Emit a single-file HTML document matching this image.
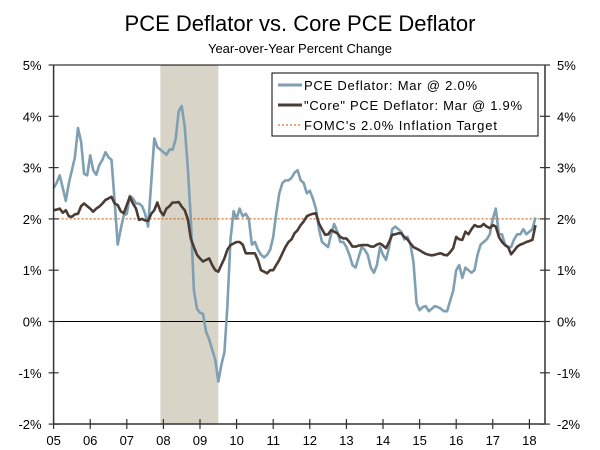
<!DOCTYPE html>
<html><head><meta charset="utf-8"><style>
html,body{margin:0;padding:0;background:#fff;}
svg{display:block;font-family:"Liberation Sans","DejaVu Sans",sans-serif;}
</style></head><body>
<svg id="chart" width="600" height="450" viewBox="0 0 600 450">
<text x="300" y="31" text-anchor="middle" font-size="22" fill="#000">PCE Deflator vs. Core PCE Deflator</text>
<text x="300" y="53" text-anchor="middle" font-size="13" fill="#000">Year-over-Year Percent Change</text>
<g id="plot"></g>
<g>
<rect x="272" y="73" width="266" height="63" fill="#fff" stroke="#000" stroke-width="1"/>
<line x1="278" y1="85" x2="302" y2="85" stroke="#7f9fb3" stroke-width="3"/>
<text x="304" y="90" font-size="13" textLength="173">PCE Deflator: Mar @ 2.0%</text>
<line x1="278" y1="105" x2="302" y2="105" stroke="#4a3c35" stroke-width="3"/>
<text x="304" y="110" font-size="13" textLength="218">"Core" PCE Deflator: Mar @ 1.9%</text>
<line x1="278" y1="125" x2="302" y2="125" stroke="#c05000" stroke-width="1" stroke-dasharray="2,2"/>
<text x="304" y="130" font-size="13" textLength="193">FOMC's 2.0% Inflation Target</text>
</g>
</svg>
<script>
const pce = [
2.6,2.7,2.85,2.6,2.35,2.7,2.95,3.2,3.77,3.5,2.88,2.85,
3.24,2.95,2.86,3.05,3.15,3.3,3.2,3.15,2.35,1.5,1.8,2.07,
2.1,2.45,2.4,2.3,2.3,2.25,2.1,1.85,2.7,3.57,3.4,3.35,
3.3,3.25,3.35,3.35,3.55,4.1,4.2,3.8,3.0,2.0,0.6,0.25,
0.17,0.15,-0.2,-0.35,-0.55,-0.75,-1.17,-0.85,-0.6,0.3,1.6,2.15,
2.0,2.2,2.05,2.1,2.0,1.5,1.55,1.4,1.3,1.25,1.3,1.4,
1.65,2.1,2.5,2.7,2.75,2.75,2.8,2.9,2.95,2.75,2.7,2.5,
2.55,2.4,2.2,1.8,1.55,1.5,1.45,1.7,1.9,1.75,1.55,1.55,
1.45,1.3,1.1,1.05,1.25,1.45,1.4,1.3,1.05,0.95,1.1,1.45,
1.3,1.2,1.45,1.8,1.85,1.8,1.75,1.6,1.65,1.5,1.15,0.35,
0.22,0.28,0.3,0.2,0.25,0.3,0.28,0.25,0.2,0.2,0.4,0.6,
1.0,1.1,0.85,1.05,1.0,0.95,1.0,1.3,1.5,1.55,1.6,1.7,
2.0,2.2,1.7,1.7,1.5,1.45,1.45,1.6,1.7,1.7,1.8,1.7,
1.75,1.8,2.03];
const core = [
2.17,2.18,2.2,2.12,2.17,2.05,2.04,2.09,2.1,2.25,2.3,2.25,
2.2,2.14,2.2,2.24,2.3,2.37,2.4,2.43,2.3,2.27,2.15,2.11,
2.27,2.43,2.3,2.2,1.98,2.0,1.97,1.96,2.1,2.17,2.32,2.15,
2.07,2.2,2.25,2.32,2.32,2.33,2.24,2.17,2.0,1.62,1.45,1.3,
1.23,1.17,1.2,1.23,1.1,1.0,0.97,1.1,1.23,1.4,1.49,1.52,
1.55,1.55,1.5,1.33,1.33,1.33,1.33,1.2,1.0,0.97,0.94,1.0,
1.0,1.1,1.2,1.33,1.45,1.55,1.6,1.72,1.78,1.88,1.95,2.05,
2.08,2.1,2.11,1.91,1.8,1.69,1.7,1.78,1.75,1.72,1.65,1.62,
1.62,1.55,1.46,1.46,1.48,1.49,1.49,1.49,1.46,1.46,1.5,1.52,
1.48,1.43,1.55,1.69,1.7,1.72,1.72,1.65,1.6,1.52,1.45,1.42,
1.39,1.35,1.32,1.3,1.29,1.3,1.32,1.33,1.3,1.29,1.35,1.43,
1.65,1.6,1.59,1.75,1.7,1.8,1.88,1.85,1.85,1.9,1.85,1.82,
1.88,1.85,1.65,1.55,1.49,1.45,1.31,1.38,1.46,1.5,1.52,1.55,
1.57,1.59,1.88];
const yearLabels = ["05","06","07","08","09","10","11","12","13","14","15","16","17","18"];
const yTicks = [5,4,3,2,1,0,-1,-2];
const target = 2.0;
const recession = [2007+11/12, 2009+6/12];

const NS="http://www.w3.org/2000/svg";
const g=document.getElementById('plot');
const X0=53.6, X1=545, YT=65, YB=424, yearW=36.6;
const xs = t => X0 + (t-2005)*yearW;
const ys = v => 321.5 - v*51.3;
function el(tag, attrs){const e=document.createElementNS(NS,tag);for(const k in attrs)e.setAttribute(k,attrs[k]);g.appendChild(e);return e;}

const rec=el('rect',{x:xs(recession[0]),y:YT,width:xs(recession[1])-xs(recession[0]),height:YB-YT,fill:'#d8d4c8'});



const topBorder=el('line',{x1:X0,y1:YT,x2:X1,y2:YT,stroke:'#000','stroke-width':1});



const zeroLine=el('line',{x1:X0,y1:ys(0),x2:X1,y2:ys(0),stroke:'#000','stroke-width':1});



const tl=el('line',{x1:X0,y1:ys(target),x2:X1,y2:ys(target),stroke:'#c05000','stroke-width':1,'stroke-dasharray':'2,2'});



function series(arr,color,name){
  const pts=arr.map((v,i)=>xs(2005+i/12).toFixed(1)+','+ys(v).toFixed(1)).join(' ');
  const p=el('polyline',{points:pts,fill:'none',stroke:color,'stroke-width':2.6,'stroke-linejoin':'round'});
  
  
}
series(pce,'#7f9fb3','pce-deflator-line');
series(core,'#4a3c35','core-pce-deflator-line');

const axL=el('line',{x1:X0,y1:YT,x2:X0,y2:YB,stroke:'#333','stroke-width':1.5});


const axR=el('line',{x1:X1,y1:YT,x2:X1,y2:YB,stroke:'#333','stroke-width':1.5});


const axB=el('line',{x1:X0,y1:YB,x2:X1,y2:YB,stroke:'#333','stroke-width':1.5});



yTicks.forEach(v=>{
  const y=ys(v);
  el('line',{x1:X0-5,y1:y,x2:X0+5,y2:y,stroke:'#333','stroke-width':1.2});
  el('line',{x1:X1-5,y1:y,x2:X1+5,y2:y,stroke:'#333','stroke-width':1.2});
  const a=el('text',{x:X0-12,y:y+5,'text-anchor':'end','font-size':13});
  a.textContent=v+'%';
  
  
  const b=el('text',{x:X1+12,y:y+5,'text-anchor':'start','font-size':13});
  b.textContent=v+'%';
  
  
});
yearLabels.forEach((lab,i)=>{
  const x=xs(2005+i);
  el('line',{x1:x,y1:YB-5,x2:x,y2:YB+5,stroke:'#333','stroke-width':1.2});
  const t=el('text',{x:x,y:YB+21,'text-anchor':'middle','font-size':13});
  t.textContent=lab;
  
  
});
</script>
</body></html>
